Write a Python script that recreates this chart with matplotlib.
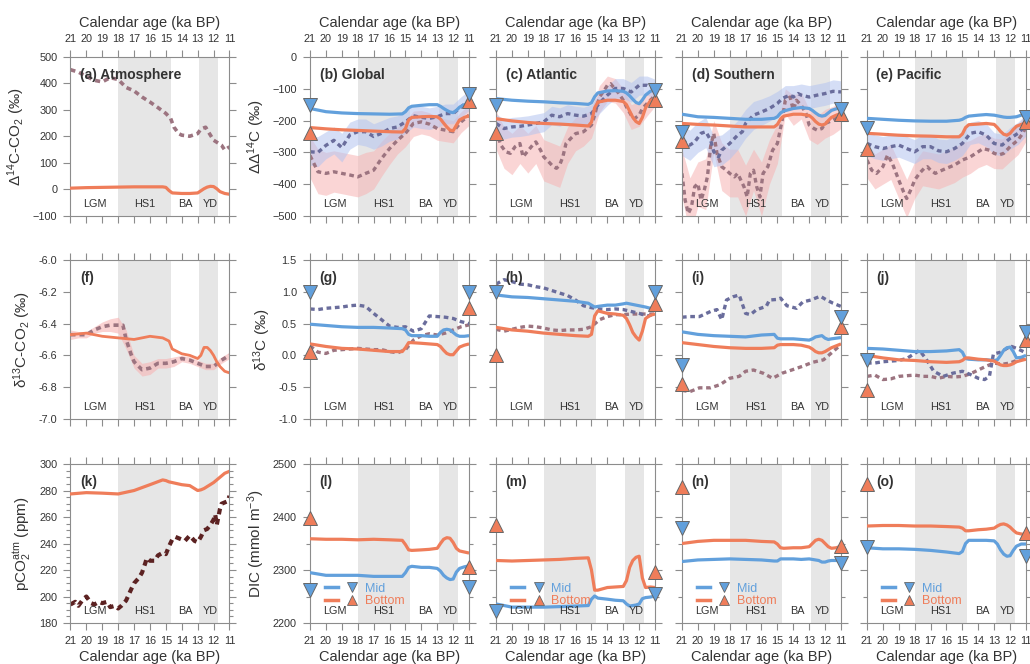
import matplotlib
matplotlib.use("Agg")
import matplotlib.pyplot as plt
from matplotlib.lines import Line2D
from matplotlib.legend_handler import HandlerTuple
from matplotlib.ticker import MultipleLocator, FormatStrFormatter

plt.rcParams['font.family'] = ['Liberation Sans', 'DejaVu Sans']
plt.rcParams['mathtext.fontset'] = 'custom'
plt.rcParams['mathtext.rm'] = 'Liberation Sans'
plt.rcParams['mathtext.it'] = 'Liberation Sans:italic'
plt.rcParams['mathtext.bf'] = 'Liberation Sans:bold'

# ---------------- data (ka BP) ----------------
MODEL_AGE = [21, 20, 19, 18, 17, 16, 15.2, 15.0, 14.8, 14.6, 14.0, 13.5, 13.0,
             12.8, 12.6, 12.4, 12.2, 12.0, 11.8, 11.6, 11.3, 11.0]
PROXY_AGE = [21, 20.5, 20, 19.5, 19, 18.5, 18, 17.5, 17, 16.5, 16, 15.5, 15,
             14.5, 14, 13.5, 13, 12.5, 12, 11.5, 11]

# (a) atmospheric D14C
A_MODEL = [5, 7, 8, 9, 10, 10, 10, 8, -4, -13, -15, -15, -13, -5, 3, 9, 12, 11, 3, -8, -15, -18]
A_AGE = [21, 20.5, 20, 19.5, 19, 18.5, 18, 17.5, 17, 16.5, 16, 15.5, 15, 14.7, 14.5,
         14.2, 14, 13.5, 13, 12.8, 12.5, 12.3, 12, 11.5, 11.3, 11]
A_OBS = [452, 443, 427, 412, 406, 422, 415, 385, 372, 349, 330, 309, 287, 268, 236,
         211, 205, 201, 211, 228, 235, 215, 186, 167, 149, 161]

# (b-e) DD14C model
B_MID = [-162, -172, -176, -178, -179, -180, -179, -172, -160, -155, -152, -150, -150, -155, -162, -168, -173, -175, -168, -158, -150, -145]
B_BOT = [-222, -226, -229, -231, -233, -235, -236, -225, -198, -190, -188, -187, -188, -195, -208, -220, -230, -232, -215, -198, -190, -185]
C_MID = [-131, -136, -139, -141, -144, -146, -149, -144, -125, -113, -107, -106, -108, -113, -122, -133, -143, -147, -135, -120, -108, -103]
C_BOT = [-194, -201, -206, -209, -211, -214, -217, -205, -160, -142, -136, -136, -140, -150, -170, -190, -203, -209, -190, -160, -138, -131]
D_MID = [-180, -188, -190, -193, -196, -196, -193, -188, -176, -170, -162, -159, -162, -168, -176, -183, -186, -184, -176, -168, -163, -160]
D_BOT = [-209, -212, -214, -217, -220, -220, -220, -212, -195, -186, -180, -180, -184, -192, -203, -211, -214, -211, -200, -190, -183, -178]
E_MID = [-193, -196, -199, -201, -202, -202, -199, -196, -190, -186, -183, -181, -183, -185, -187, -189, -190, -190, -189, -188, -183, -178]
E_BOT = [-240, -243, -246, -248, -249, -251, -251, -242, -222, -213, -211, -209, -212, -222, -234, -243, -246, -240, -228, -218, -212, -209]

# (b-e) DD14C reconstructions
B_MID_OBS = [-298, -300, -278, -262, -285, -245, -235, -235, -250, -240, -225, -220, -204, -185, -190, -193, -188, -178, -178, -157, -136]
B_MID_HI = [-255, -250, -235, -220, -240, -205, -195, -195, -210, -200, -190, -185, -170, -150, -155, -160, -155, -148, -148, -125, -105]
B_MID_LO = [-340, -345, -320, -305, -330, -290, -275, -280, -290, -280, -265, -258, -240, -220, -225, -228, -222, -210, -210, -190, -168]
B_BOT_OBS = [-310, -361, -366, -361, -366, -371, -377, -366, -356, -319, -288, -262, -240, -209, -204, -211, -225, -230, -235, -204, -183]
B_BOT_HI = [-250, -290, -300, -295, -300, -305, -310, -300, -295, -265, -240, -220, -200, -170, -168, -175, -188, -195, -200, -172, -150]
B_BOT_LO = [-380, -430, -435, -425, -430, -435, -440, -430, -415, -375, -338, -305, -282, -250, -242, -248, -262, -266, -270, -238, -215]

C_MID_OBS = [-209, -225, -220, -218, -214, -209, -204, -183, -188, -178, -183, -186, -178, -145, -120, -99, -99, -110, -89, -89, -99]
C_MID_HI = [-180, -195, -190, -188, -185, -180, -175, -155, -160, -150, -155, -158, -150, -115, -90, -68, -68, -80, -60, -60, -70]
C_MID_LO = [-240, -258, -252, -250, -246, -240, -235, -213, -218, -208, -213, -216, -208, -178, -152, -130, -130, -142, -120, -120, -130]
C_BOT_AGE = [21, 20.7, 20.4, 20.1, 19.8, 19.5, 19.3, 18.7, 18.5, 18.2, 18, 17.7, 17.4, 17.2, 17, 16.8, 16.6, 16.3, 16,
             15.5, 15, 14.8, 14.5, 14.2, 14, 13.8, 13.6, 13.3, 13, 12.8, 12.5, 12.3, 12, 11.8, 11.5, 11.2, 11]
C_BOT_OBS = [-230, -277, -298, -303, -282, -272, -314, -277, -267, -293, -314, -329, -345, -350, -340, -314, -272, -256, -241,
             -235, -214, -183, -126, -105, -89, -84, -96, -113, -136, -157, -183, -194, -183, -162, -146, -131, -120]
C_BOT_HI = [-170, -220, -240, -215, -240, -215, -260, -270, -280, -220, -190, -185, -165, -90, -60, -68, -100, -150, -140, -110, -88]
C_BOT_LO = [-290, -350, -370, -335, -365, -335, -390, -400, -410, -335, -295, -280, -255, -175, -140, -145, -175, -228, -218, -185, -155]

D_MID_AGE = [21, 20.5, 20.2, 19.8, 19.5, 19.2, 19, 18.7, 18.5, 18, 17.5, 17.2, 17, 16.5, 16, 15.5, 15, 14.7,
             14.5, 14.2, 14, 13.7, 13.5, 13, 12.5, 12, 11.5, 11]
D_MID_OBS = [-261, -277, -267, -240, -235, -261, -298, -314, -293, -272, -246, -235, -209, -183, -173, -162, -146, -131,
             -126, -120, -126, -115, -120, -126, -120, -115, -108, -110]
D_MID_HI = [-215, -230, -205, -190, -250, -245, -225, -200, -165, -140, -132, -122, -108, -90, -90, -85, -90, -85, -80, -72, -75]
D_MID_LO = [-310, -325, -300, -285, -345, -340, -320, -292, -255, -228, -215, -202, -185, -165, -162, -157, -162, -157, -152, -145, -148]
D_BOT_AGE = [21, 20.8, 20.6, 20.4, 20.2, 20, 19.8, 19.6, 19.4, 19.2, 19.0, 18.8, 18.5, 18.2, 18, 17.7, 17.5, 17.3, 17.1, 16.9,
             16.7, 16.5, 16.3, 16.1, 15.9, 15.6, 15.3, 15, 14.7, 14.5, 14.2, 14, 13.8, 13.5, 13.2, 13, 12.7, 12.5, 12.2, 12, 11.5, 11]
D_BOT_OBS = [-366, -450, -492, -471, -408, -398, -450, -419, -377, -282, -240, -303, -345, -356, -366, -377, -366, -387, -408, -440,
             -366, -356, -408, -440, -366, -345, -293, -272, -199, -136, -126, -167, -136, -152, -178, -214, -225, -230, -225, -209, -199, -183]
D_BOT_HI = [-290, -380, -330, -320, -200, -270, -290, -290, -340, -290, -330, -260, -210, -100, -120, -110, -165, -185, -165, -155, -140]
D_BOT_LO = [-440, -560, -470, -480, -300, -420, -440, -440, -500, -420, -500, -400, -335, -180, -215, -195, -260, -275, -255, -243, -225]

E_MID_OBS = [-272, -282, -288, -282, -277, -288, -298, -282, -282, -295, -298, -288, -272, -240, -235, -246, -272, -277, -256, -240, -214]
E_MID_HI = [-235, -245, -250, -245, -240, -250, -260, -245, -245, -258, -260, -250, -235, -205, -200, -210, -238, -243, -222, -205, -180]
E_MID_LO = [-310, -320, -325, -320, -315, -325, -335, -320, -320, -332, -335, -325, -310, -275, -270, -282, -306, -311, -290, -275, -248]
E_BOT_AGE = [21, 20.7, 20.4, 20, 19.7, 19.4, 19, 18.7, 18.5, 18.2, 18, 17.7, 17.4, 17.2, 17, 16.7, 16.5, 16, 15.5, 15,
             14.5, 14, 13.7, 13.3, 13, 12.7, 12.4, 12, 11.5, 11.2, 11]
E_BOT_OBS = [-324, -356, -366, -345, -308, -335, -387, -424, -445, -413, -387, -366, -350, -345, -356, -366, -361, -350, -340, -324,
             -314, -298, -288, -293, -303, -308, -303, -282, -261, -240, -220]
E_BOT_HI = [-270, -305, -290, -275, -330, -385, -330, -295, -300, -305, -295, -285, -270, -262, -248, -242, -255, -258, -235, -215, -175]
E_BOT_LO = [-380, -415, -400, -385, -445, -505, -445, -405, -410, -415, -405, -395, -378, -366, -348, -338, -351, -352, -329, -307, -265]

# (f) atmospheric d13C
F_MODEL = [-6.47, -6.46, -6.48, -6.49, -6.50, -6.48, -6.49, -6.50, -6.51, -6.56, -6.59, -6.60, -6.62, -6.60, -6.55, -6.55, -6.57, -6.60, -6.64, -6.67, -6.70, -6.71]
F_AGE = [21, 20.5, 20, 19.5, 19, 18.5, 18, 17.7, 17.5, 17.2, 17, 16.5, 16, 15.5, 15, 14.5, 14, 13.5, 13, 12.5, 12, 11.5, 11]
F_OBS = [-6.47, -6.47, -6.47, -6.44, -6.42, -6.41, -6.41, -6.41, -6.50, -6.59, -6.64, -6.69, -6.68, -6.65, -6.65, -6.64, -6.62, -6.63, -6.65, -6.67, -6.67, -6.63, -6.60]
F_HI = [-6.44, -6.45, -6.45, -6.42, -6.39, -6.37, -6.36, -6.44, -6.60, -6.65, -6.64, -6.62, -6.62, -6.61, -6.60, -6.61, -6.63, -6.65, -6.65, -6.61, -6.58]
F_LO = [-6.50, -6.49, -6.49, -6.46, -6.45, -6.45, -6.46, -6.56, -6.68, -6.73, -6.72, -6.68, -6.68, -6.67, -6.64, -6.65, -6.67, -6.69, -6.69, -6.65, -6.62]

# (g-j) d13C model
G_MID = [0.49, 0.47, 0.45, 0.44, 0.44, 0.43, 0.42, 0.40, 0.33, 0.31, 0.31, 0.30, 0.30, 0.36, 0.40, 0.41, 0.40, 0.36, 0.32, 0.30, 0.30, 0.31]
G_BOT = [0.18, 0.14, 0.11, 0.10, 0.08, 0.06, 0.06, 0.12, 0.20, 0.20, 0.19, 0.18, 0.17, 0.14, 0.08, 0.03, 0.01, 0.01, 0.07, 0.13, 0.16, 0.18]
H_MID = [0.95, 0.92, 0.91, 0.89, 0.87, 0.85, 0.82, 0.79, 0.76, 0.77, 0.79, 0.79, 0.81, 0.82, 0.81, 0.80, 0.79, 0.78, 0.77, 0.76, 0.74, 0.76]
H_BOT = [0.44, 0.40, 0.38, 0.35, 0.33, 0.31, 0.30, 0.33, 0.62, 0.70, 0.66, 0.65, 0.63, 0.58, 0.48, 0.36, 0.29, 0.24, 0.38, 0.58, 0.63, 0.65]
I_MID = [0.37, 0.33, 0.31, 0.30, 0.29, 0.32, 0.33, 0.27, 0.26, 0.26, 0.26, 0.25, 0.24, 0.26, 0.29, 0.30, 0.31, 0.27, 0.25, 0.26, 0.27, 0.28]
I_BOT = [0.20, 0.17, 0.14, 0.12, 0.11, 0.11, 0.12, 0.16, 0.17, 0.17, 0.17, 0.16, 0.13, 0.10, 0.06, 0.04, 0.04, 0.06, 0.09, 0.12, 0.15, 0.18]
J_MID = [0.11, 0.10, 0.08, 0.06, 0.06, 0.07, 0.09, 0.05, -0.05, -0.06, -0.07, -0.07, -0.08, -0.07, 0.00, 0.08, 0.12, 0.13, 0.06, -0.04, -0.03, 0.00]
J_BOT = [0.00, -0.04, -0.07, -0.08, -0.10, -0.11, -0.10, -0.08, -0.04, -0.04, -0.06, -0.07, -0.09, -0.12, -0.15, -0.16, -0.16, -0.15, -0.13, -0.10, -0.08, -0.06]

# (g-j) d13C reconstructions
G_MID_OBS = [0.73, 0.72, 0.74, 0.75, 0.76, 0.78, 0.79, 0.77, 0.66, 0.56, 0.46, 0.44, 0.45, 0.38, 0.42, 0.62, 0.61, 0.60, 0.58, 0.53, 0.50]
G_BOT_OBS = [0.15, 0.05, 0.03, 0.08, 0.09, 0.10, 0.11, 0.10, 0.09, 0.09, 0.06, 0.04, 0.09, 0.24, 0.31, 0.34, 0.32, 0.35, 0.40, 0.45, 0.48]
H_MID_OBS = [1.12, 1.19, 1.16, 1.12, 1.11, 1.08, 1.06, 1.02, 0.98, 0.94, 0.87, 0.78, 0.75, 0.73, 0.72, 0.73, 0.72, 0.69, 0.66, 0.62, 0.64]
H_BOT_OBS = [0.41, 0.38, 0.41, 0.44, 0.46, 0.45, 0.43, 0.40, 0.39, 0.40, 0.40, 0.41, 0.45, 0.56, 0.61, 0.64, 0.64, 0.65, 0.65, 0.65, 0.65]
I_MID_AGE = [21, 20.5, 19.9, 19.2, 18.8, 18.5, 18.2, 17.8, 17.4, 17.0, 16.7, 16.3, 15.7, 15.5, 15.0, 14.8, 14.4, 13.8,
             13.4, 12.9, 12.3, 11.9, 11.5, 11.0]
I_MID_OBS = [0.60, 0.61, 0.61, 0.69, 0.72, 0.56, 0.87, 0.92, 0.95, 0.66, 0.64, 0.72, 0.77, 0.87, 0.88, 0.90, 0.78, 0.74,
             0.84, 0.87, 0.93, 0.87, 0.82, 0.77]
I_BOT_AGE = [21, 20.5, 19.9, 19.2, 18.6, 18.0, 17.4, 17.0, 16.5, 15.9, 15.3, 14.7, 14.1, 13.4, 12.8, 12.1, 11.5, 11.0]
I_BOT_OBS = [-0.55, -0.57, -0.51, -0.51, -0.46, -0.36, -0.33, -0.25, -0.23, -0.28, -0.36, -0.28, -0.23, -0.17, -0.11, -0.07, 0.06, 0.17]
J_MID_AGE = [21, 20.5, 20, 19.5, 19, 18.5, 18.0, 17.7, 17.3, 16.8, 16.2, 15.6, 15.0, 14.5, 14.0, 13.6, 13.3, 13.05,
             12.6, 12.2, 11.9, 11.5, 11.0]
J_MID_OBS = [-0.12, -0.12, -0.10, -0.09, -0.08, -0.05, 0.03, 0.08, -0.05, -0.25, -0.33, -0.28, -0.25, -0.30, -0.36, -0.38, -0.33, 0.02,
             0.05, 0.11, 0.14, 0.10, 0.04]
J_BOT_OBS = [-0.33, -0.31, -0.38, -0.37, -0.33, -0.32, -0.31, -0.33, -0.33, -0.36, -0.33, -0.34, -0.33, -0.29, -0.23, -0.17, -0.12, -0.14, -0.12, -0.07, -0.02]

# (k) pCO2
K_MODEL = [277.4, 278.4, 278, 277.4, 280, 284.4, 288, 287.5, 286.5, 286, 284.4, 283.7, 280, 280.5, 281.5, 283, 284.5, 286, 288, 290, 293, 294.5]
K_AGE = [21, 20.7, 20.5, 20.2, 20, 19.7, 19.5, 19.2, 19, 18.7, 18.5, 18.2, 18, 17.8, 17.5, 17.2, 17, 16.7, 16.5, 16.3,
         16.2, 16, 15.7, 15.5, 15.2, 15, 14.8, 14.6, 14.4, 14.2, 14, 13.8, 13.5, 13.2, 13, 12.8, 12.6, 12.4, 12.2, 12,
         11.9, 11.8, 11.6, 11.5, 11.3, 11.1, 11.0]
K_OBS = [194, 196, 193, 198, 200, 195, 194, 196, 195, 196, 192, 193, 191, 193, 197, 205, 210, 214, 218, 225,
         229, 227, 227, 231, 233, 232, 238, 243, 245, 244, 243, 242, 246, 242, 241, 245, 250, 251, 254, 258,
         262, 254, 266, 270, 271, 272, 276]

# (l-o) DIC model
L_MID = [2295, 2290, 2290, 2290, 2288, 2288, 2288, 2295, 2305, 2307, 2305, 2305, 2303, 2298, 2290, 2285, 2282, 2283, 2296, 2303, 2306, 2308]
L_BOT = [2359, 2358, 2358, 2357, 2358, 2357, 2356, 2348, 2338, 2337, 2338, 2339, 2341, 2350, 2358, 2361, 2360, 2352, 2341, 2336, 2334, 2332]
M_MID = [2236, 2230, 2230, 2230, 2231, 2232, 2233, 2245, 2251, 2247, 2245, 2243, 2242, 2236, 2232, 2233, 2234, 2236, 2246, 2248, 2249, 2251]
M_BOT = [2318, 2317, 2318, 2319, 2320, 2322, 2323, 2300, 2262, 2262, 2267, 2268, 2269, 2280, 2305, 2318, 2324, 2326, 2285, 2267, 2268, 2267]
N_MID = [2316, 2319, 2320, 2321, 2320, 2319, 2317, 2317, 2321, 2321, 2321, 2320, 2321, 2320, 2319, 2318, 2315, 2315, 2317, 2318, 2318, 2317]
N_BOT = [2350, 2354, 2356, 2356, 2356, 2354, 2353, 2349, 2342, 2341, 2342, 2342, 2344, 2350, 2356, 2358, 2356, 2350, 2344, 2341, 2342, 2345]
O_MID = [2342, 2340, 2340, 2339, 2337, 2334, 2331, 2335, 2350, 2356, 2356, 2356, 2355, 2349, 2338, 2330, 2326, 2327, 2337, 2345, 2349, 2349]
O_BOT = [2383, 2384, 2384, 2383, 2383, 2382, 2381, 2379, 2374, 2374, 2376, 2377, 2379, 2383, 2386, 2387, 2385, 2381, 2375, 2370, 2368, 2367]

# markers at 21 ka and 11 ka, columns Global/Atlantic/Southern/Pacific
D14_MID_21 = [-150, -150, -235, -222]
D14_MID_11 = [-115, -105, -165, -188]
D14_BOT_21 = [-240, -240, -265, -288]
D14_BOT_11 = [-140, -135, -178, -205]
D13_MID_21 = [1.0, 1.0, -0.15, -0.08]
D13_MID_11 = [1.0, 1.0, 0.60, 0.36]
D13_BOT_21 = [0.05, 0.0, -0.45, -0.55]
D13_BOT_11 = [0.75, 0.80, 0.44, 0.24]
DIC_MID_21 = [2262, 2222, 2380, 2343]
DIC_MID_11 = [2268, 2254, 2313, 2326]
DIC_BOT_21 = [2398, 2385, 2456, 2462]
DIC_BOT_11 = [2305, 2296, 2346, 2369]

PERIODS = ['LGM', 'HS1', 'BA', 'YD']
PERIOD_X = [19.45, 16.35, 13.75, 12.2]
SHADES = [(18.0, 14.7), (12.9, 11.7)]

# ---------------- style ----------------
BLUE = '#62a0dc'
ORANGE = '#ef7d5a'
PURPLE = '#6a6d9c'
MAUVE = '#9c7480'
BROWN = '#5c2222'
BAND_BLUE = '#b4c4f0'
BAND_RED = '#f7b4b4'
TXT = '#333333'
GRID = '#8c8c8c'
DOT = (1.4, 1.1)

fig = plt.figure(figsize=(10.3, 6.64), dpi=100)
LEFTS = [0.0684, 0.3010, 0.4816, 0.6621, 0.8417]
BOTTOMS = [0.6747, 0.3690, 0.0617]
W, H = 0.1544, 0.2395


def make_axis(row, col, ylim, major, minor=None, title=''):
    ax = fig.add_axes([LEFTS[col], BOTTOMS[row], W, H])
    ax.set_xlim(21, 11)
    ax.set_ylim(*ylim)
    ax.xaxis.set_major_locator(MultipleLocator(1))
    ax.yaxis.set_major_locator(MultipleLocator(major))
    if minor:
        ax.yaxis.set_minor_locator(MultipleLocator(minor))
    ax.tick_params(which='both', direction='out', top=True, right=True,
                   color=GRID, labelcolor=TXT, labelsize=7.8, width=0.8, pad=4.5)
    ax.tick_params(which='major', length=5)
    ax.tick_params(which='minor', length=3)
    ax.tick_params(labeltop=(row == 0), labelbottom=(row == 2), labelleft=(col < 2))
    for s in ax.spines.values():
        s.set_color(GRID)
        s.set_linewidth(0.8)
    for x0, x1 in SHADES:
        ax.axvspan(x0, x1, color='#e6e6e6', lw=0, zorder=0)
    tr = ax.get_xaxis_transform()
    for name, x in zip(PERIODS, PERIOD_X):
        ax.text(x, 0.075, name, transform=tr, ha='center', va='center',
                fontsize=7.8, color=TXT, zorder=6)
    ax.text(0.06, 0.885, title, transform=ax.transAxes, ha='left', va='center',
            fontsize=10, fontweight='bold', color=TXT, zorder=7)
    if row == 0:
        ax.set_xlabel('Calendar age (ka BP)', fontsize=10.5, color=TXT, labelpad=5)
        ax.xaxis.set_label_position('top')
    if row == 2:
        ax.set_xlabel('Calendar age (ka BP)', fontsize=10.5, color=TXT, labelpad=3)
    return ax


def dotted(ax, x, y, color, lw=2.4, z=2):
    ax.plot(x, y, color=color, lw=lw, dashes=DOT, zorder=z)


def markers(ax, mid21, mid11, bot21, bot11):
    kw = dict(ls='none', ms=10, mec='#666666', mew=0.7, clip_on=False, zorder=8)
    ax.plot([21, 11], [bot21, bot11], marker='^', color=ORANGE, **kw)
    ax.plot([21, 11], [mid21, mid11], marker='v', color=BLUE, **kw)


def model(ax, mid, bot):
    ax.plot(MODEL_AGE, mid, color=BLUE, lw=2.3, zorder=4, solid_capstyle='butt')
    ax.plot(MODEL_AGE, bot, color=ORANGE, lw=2.3, zorder=4, solid_capstyle='butt')


# ---------------- row 1: D14C ----------------
ax = make_axis(0, 0, (-100, 500), 100, title='(a) Atmosphere')
dotted(ax, A_AGE, A_OBS, MAUVE, lw=2.6)
ax.plot(MODEL_AGE, A_MODEL, color=ORANGE, lw=2.3, zorder=4)
ax.set_ylabel('Δ$^{14}$C-CO$_2$ (‰)', fontsize=11, color=TXT)

row1 = [
    ('(b) Global', B_MID, B_BOT, PROXY_AGE, B_MID_OBS, B_MID_HI, B_MID_LO, PROXY_AGE, B_BOT_OBS, B_BOT_HI, B_BOT_LO),
    ('(c) Atlantic', C_MID, C_BOT, PROXY_AGE, C_MID_OBS, C_MID_HI, C_MID_LO, C_BOT_AGE, C_BOT_OBS, C_BOT_HI, C_BOT_LO),
    ('(d) Southern', D_MID, D_BOT, D_MID_AGE, D_MID_OBS, D_MID_HI, D_MID_LO, D_BOT_AGE, D_BOT_OBS, D_BOT_HI, D_BOT_LO),
    ('(e) Pacific', E_MID, E_BOT, PROXY_AGE, E_MID_OBS, E_MID_HI, E_MID_LO, E_BOT_AGE, E_BOT_OBS, E_BOT_HI, E_BOT_LO),
]
for i, (title, mid, bot, ma, mo, mhi, mlo, ba, bo, bhi, blo) in enumerate(row1):
    ax = make_axis(0, i + 1, (-500, 0), 100, title=title)
    ax.fill_between(PROXY_AGE, blo, bhi, color=BAND_RED, alpha=0.55, lw=0, zorder=1)
    ax.fill_between(PROXY_AGE, mlo, mhi, color=BAND_BLUE, alpha=0.55, lw=0, zorder=1)
    dotted(ax, ba, bo, MAUVE)
    dotted(ax, ma, mo, PURPLE)
    model(ax, mid, bot)
    markers(ax, D14_MID_21[i], D14_MID_11[i], D14_BOT_21[i], D14_BOT_11[i])
    if i == 0:
        ax.set_ylabel('ΔΔ$^{14}$C (‰)', fontsize=11, color=TXT)

# ---------------- row 2: d13C ----------------
ax = make_axis(1, 0, (-7.0, -6.0), 0.2, title='(f)')
ax.fill_between(PROXY_AGE, F_LO, F_HI, color=BAND_RED, alpha=0.6, lw=0, zorder=1)
dotted(ax, F_AGE, F_OBS, MAUVE, lw=2.6)
ax.plot(MODEL_AGE, F_MODEL, color=ORANGE, lw=2.0, zorder=4)
ax.set_ylabel('δ$^{13}$C-CO$_2$ (‰)', fontsize=11, color=TXT)
ax.yaxis.set_major_formatter(FormatStrFormatter('%.1f'))

row2 = [
    ('(g)', G_MID, G_BOT, PROXY_AGE, G_MID_OBS, PROXY_AGE, G_BOT_OBS),
    ('(h)', H_MID, H_BOT, PROXY_AGE, H_MID_OBS, PROXY_AGE, H_BOT_OBS),
    ('(i)', I_MID, I_BOT, I_MID_AGE, I_MID_OBS, I_BOT_AGE, I_BOT_OBS),
    ('(j)', J_MID, J_BOT, J_MID_AGE, J_MID_OBS, PROXY_AGE, J_BOT_OBS),
]
for i, (title, mid, bot, ma, mo, ba, bo) in enumerate(row2):
    ax = make_axis(1, i + 1, (-1.0, 1.5), 0.5, title=title)
    dotted(ax, ba, bo, MAUVE)
    dotted(ax, ma, mo, PURPLE)
    model(ax, mid, bot)
    markers(ax, D13_MID_21[i], D13_MID_11[i], D13_BOT_21[i], D13_BOT_11[i])
    ax.yaxis.set_major_formatter(FormatStrFormatter('%.1f'))
    if i == 0:
        ax.set_ylabel('δ$^{13}$C (‰)', fontsize=11, color=TXT)

# ---------------- row 3: pCO2 and DIC ----------------
ax = make_axis(2, 0, (180, 300), 20, minor=5, title='(k)')
dotted(ax, K_AGE, K_OBS, BROWN, lw=3.0)
ax.plot(MODEL_AGE, K_MODEL, color=ORANGE, lw=2.3, zorder=4)
ax.set_ylabel('pCO$_2^{\\rm atm}$ (ppm)', fontsize=11, color=TXT)

row3 = [('(l)', L_MID, L_BOT), ('(m)', M_MID, M_BOT), ('(n)', N_MID, N_BOT), ('(o)', O_MID, O_BOT)]
for i, (title, mid, bot) in enumerate(row3):
    ax = make_axis(2, i + 1, (2200, 2500), 100, minor=50, title=title)
    model(ax, mid, bot)
    markers(ax, DIC_MID_21[i], DIC_MID_11[i], DIC_BOT_21[i], DIC_BOT_11[i])
    h_mid = (Line2D([], [], color=BLUE, lw=2.5),
             Line2D([], [], ls='none', marker='v', ms=6.5, color=BLUE, mec='#666666', mew=0.6))
    h_bot = (Line2D([], [], color=ORANGE, lw=2.5),
             Line2D([], [], ls='none', marker='^', ms=6.5, color=ORANGE, mec='#666666', mew=0.6))
    ax.legend([h_mid, h_bot], ['Mid', 'Bottom'],
              handler_map={tuple: HandlerTuple(ndivide=None, pad=0.6)},
              loc='lower left', bbox_to_anchor=(0.096, 0.1), frameon=False,
              handlelength=2.7, handletextpad=0.45, labelspacing=0.05,
              handleheight=0.6, borderpad=0, borderaxespad=0,
              fontsize=9, labelcolor=[BLUE, ORANGE])
    if i == 0:
        ax.set_ylabel('DIC (mmol m$^{-3}$)', fontsize=11, color=TXT)

fig.savefig('out.png', dpi=100)
